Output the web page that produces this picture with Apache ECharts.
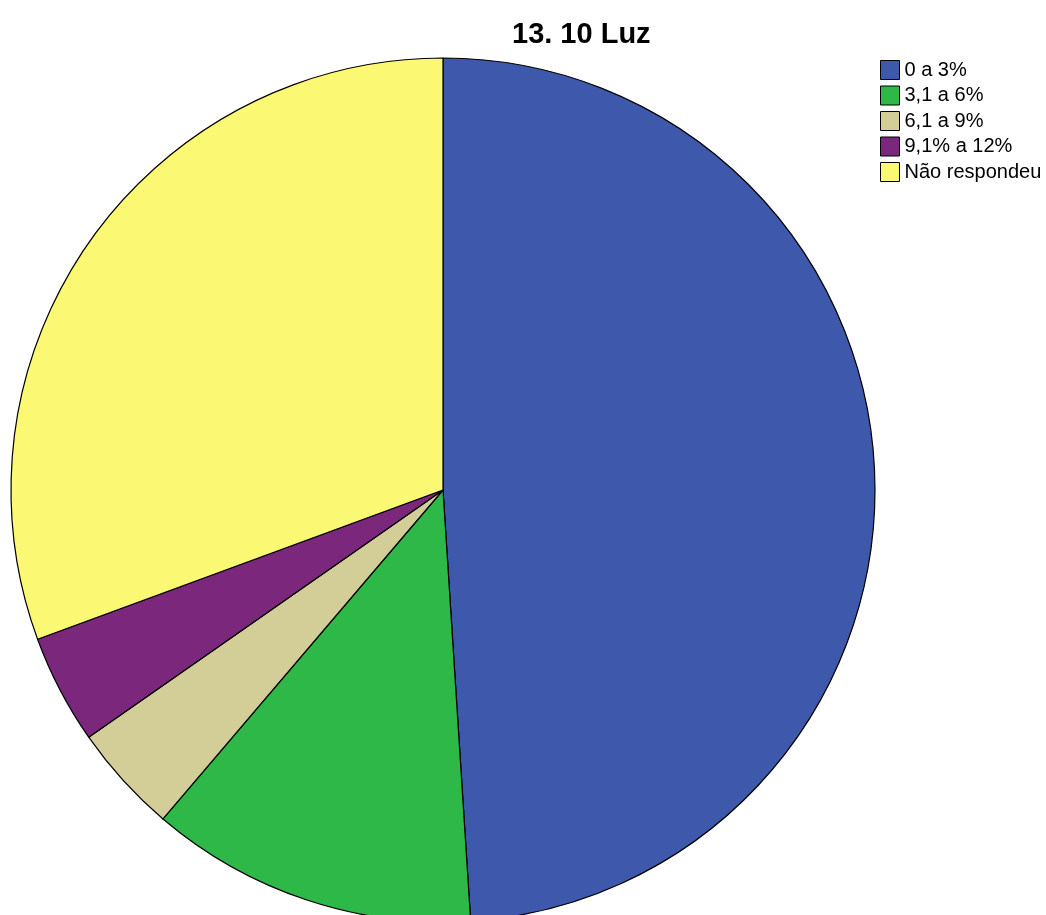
<!DOCTYPE html>
<html>
<head>
<meta charset="utf-8">
<script src="https://cdn.jsdelivr.net/npm/echarts@6/dist/echarts.min.js"></script>
<style>
  html, body { margin: 0; padding: 0; background: #fff; }
  #chart { width: 1046px; height: 915px; }
</style>
</head>
<body>
<div id="chart"></div>
<script>
// Response categories for question 13.10 (Luz)
const categories = ['0 a 3%', '3,1 a 6%', '6,1 a 9%', '9,1% a 12%', 'Não respondeu'];
// Number of respondents in each category
const counts = [24, 6, 2, 2, 15];
const colors = ['#3E58AC', '#2EB848', '#D3CE97', '#7B287C', '#FBF873'];

const chart = echarts.init(document.getElementById('chart'), null, { renderer: 'canvas' });

const pieData = categories.map((name, i) => ({
  name: name,
  value: counts[i],
  itemStyle: { color: colors[i] }
}));

chart.setOption({
  animation: false,
  backgroundColor: '#ffffff',
  title: {
    text: '13. 10 Luz',
    left: 512,
    top: 20,
    padding: 0,
    textStyle: {
      fontFamily: 'Liberation Sans, Arial, sans-serif',
      fontWeight: 'bold',
      fontSize: 29,
      color: '#000000'
    }
  },
  legend: {
    orient: 'vertical',
    left: 880,
    top: 60,
    padding: 0,
    itemWidth: 19,
    itemHeight: 19,
    itemGap: 5.5,
    icon: 'rect',
    selectedMode: false,
    data: categories,
    itemStyle: { borderColor: '#000000', borderWidth: 1 },
    textStyle: {
      fontFamily: 'Liberation Sans, Arial, sans-serif',
      fontSize: 20,
      lineHeight: 19,
      color: '#000000'
    }
  },
  series: [{
    type: 'pie',
    center: [443, 490],
    radius: 432,
    startAngle: 90,
    clockwise: true,
    avoidLabelOverlap: false,
    label: { show: false },
    labelLine: { show: false },
    emphasis: { disabled: true },
    itemStyle: { borderColor: '#000000', borderWidth: 1.2 },
    data: pieData
  }]
});
</script>
</body>
</html>
